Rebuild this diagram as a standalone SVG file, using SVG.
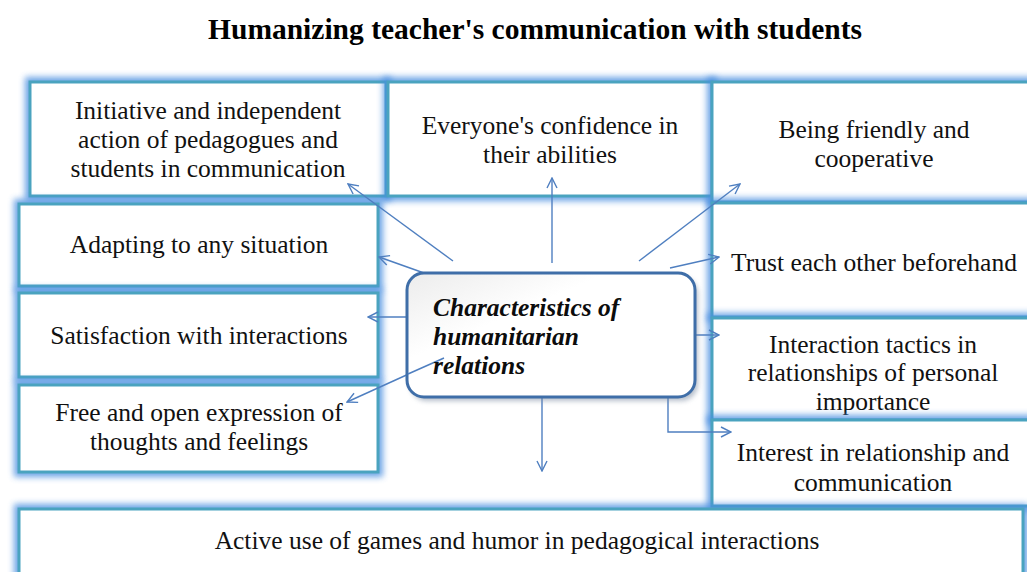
<svg xmlns="http://www.w3.org/2000/svg" width="1027" height="572" viewBox="0 0 1027 572">
  <defs>
    <filter id="glow" x="-10%" y="-20%" width="120%" height="140%">
      <feGaussianBlur stdDeviation="3"/>
    </filter>
    <filter id="shadow" x="-10%" y="-20%" width="120%" height="140%">
      <feGaussianBlur stdDeviation="2.5"/>
    </filter>
    <linearGradient id="coreFill" x1="0" y1="0" x2="1" y2="1">
      <stop offset="0" stop-color="#ececec"/>
      <stop offset="0.35" stop-color="#ffffff"/>
      <stop offset="1" stop-color="#ffffff"/>
    </linearGradient>
    <marker id="arrow" viewBox="0 0 12 12" refX="11" refY="6" markerWidth="12" markerHeight="12" markerUnits="userSpaceOnUse" orient="auto">
      <polyline points="1,1 11,6 1,11" fill="none" stroke="#4f7fc0" stroke-width="1.4"/>
    </marker>
    <style>
      .halo { fill: none; stroke: #4a8ee0; stroke-width: 10; opacity: 0.8; filter: url(#glow); }
      .box { fill: #ffffff; stroke: #4aa3bf; stroke-width: 3; }
      .lbl { font-family: "Liberation Serif", "Times New Roman", Times, serif; font-size: 25.5px; fill: #111111; text-anchor: middle; }
      .title { font-family: "Liberation Serif", "Times New Roman", Times, serif; font-size: 29.5px; font-weight: bold; fill: #000000; text-anchor: middle; }
      .core { font-family: "Liberation Serif", "Times New Roman", Times, serif; font-size: 25.5px; font-weight: bold; font-style: italic; fill: #0c0c0c; }
      .link { fill: none; stroke: #4f7fc0; stroke-width: 1.4; marker-end: url(#arrow); }
    </style>
  </defs>

  <rect width="1027" height="572" fill="#ffffff"/>

  <text class="title" x="535" y="39">Humanizing teacher's communication with students</text>

  <!-- top row -->
  <g id="node-initiative">
    <rect class="halo" x="30" y="82" width="356" height="114"/>
    <rect class="box" x="30" y="82" width="356" height="114"/>
    <text class="lbl" x="208" y="119">Initiative and independent</text>
    <text class="lbl" x="208" y="148">action of pedagogues and</text>
    <text class="lbl" x="208" y="177">students in communication</text>
  </g>
  <g id="node-confidence">
    <rect class="halo" x="388" y="82" width="324" height="114"/>
    <rect class="box" x="388" y="82" width="324" height="114"/>
    <text class="lbl" x="550" y="134">Everyone's confidence in</text>
    <text class="lbl" x="550" y="163">their abilities</text>
  </g>
  <g id="node-friendly">
    <rect class="halo" x="712" y="82" width="330" height="120"/>
    <rect class="box" x="712" y="82" width="330" height="120"/>
    <text class="lbl" x="874" y="138">Being friendly and</text>
    <text class="lbl" x="874" y="167">cooperative</text>
  </g>

  <!-- right column -->
  <g id="node-trust">
    <rect class="halo" x="712" y="203" width="330" height="114"/>
    <rect class="box" x="712" y="203" width="330" height="114"/>
    <text class="lbl" x="874" y="271">Trust each other beforehand</text>
  </g>
  <g id="node-tactics">
    <rect class="halo" x="712" y="318" width="330" height="102"/>
    <rect class="box" x="712" y="318" width="330" height="102"/>
    <text class="lbl" x="873" y="353">Interaction tactics in</text>
    <text class="lbl" x="873" y="381">relationships of personal</text>
    <text class="lbl" x="873" y="410">importance</text>
  </g>
  <g id="node-interest">
    <rect class="halo" x="712" y="420" width="330" height="86"/>
    <rect class="box" x="712" y="420" width="330" height="86"/>
    <text class="lbl" x="873" y="461">Interest in relationship and</text>
    <text class="lbl" x="873" y="491">communication</text>
  </g>

  <!-- left column -->
  <g id="node-adapting">
    <rect class="halo" x="19" y="204" width="359" height="82"/>
    <rect class="box" x="19" y="204" width="359" height="82"/>
    <text class="lbl" x="199" y="253">Adapting to any situation</text>
  </g>
  <g id="node-satisfaction">
    <rect class="halo" x="19" y="293" width="359" height="84"/>
    <rect class="box" x="19" y="293" width="359" height="84"/>
    <text class="lbl" x="199" y="344">Satisfaction with interactions</text>
  </g>
  <g id="node-expression">
    <rect class="halo" x="19" y="385" width="359" height="87"/>
    <rect class="box" x="19" y="385" width="359" height="87"/>
    <text class="lbl" x="199" y="421">Free and open expression of</text>
    <text class="lbl" x="199" y="450">thoughts and feelings</text>
  </g>

  <!-- bottom band -->
  <g id="node-games">
    <rect class="halo" x="19" y="509" width="1004" height="70"/>
    <rect class="box" x="19" y="509" width="1004" height="70"/>
    <text class="lbl" x="517" y="549">Active use of games and humor in pedagogical interactions</text>
  </g>

  <!-- connectors from the centre -->
  <g id="connectors">
    <line class="link" x1="453" y1="261" x2="348" y2="184"/>
    <line class="link" x1="552" y1="263" x2="552" y2="178"/>
    <line class="link" x1="639" y1="261" x2="740" y2="184"/>
    <line class="link" x1="670" y1="268" x2="719" y2="257"/>
    <line class="link" x1="424" y1="273" x2="379" y2="257"/>
    <line class="link" x1="408" y1="317" x2="368" y2="317"/>
    <line class="link" x1="444" y1="358" x2="347" y2="402"/>
    <line class="link" x1="677" y1="335" x2="719" y2="335"/>
    <line class="link" x1="542" y1="398" x2="542" y2="471"/>
    <polyline class="link" points="603,390 668,390 668,432 731,432"/>
  </g>

  <!-- central node -->
  <g id="node-core">
    <rect x="410" y="277" width="288" height="124" rx="17" fill="#7a8aa0" opacity="0.55" filter="url(#shadow)"/>
    <rect x="407" y="273" width="288" height="124" rx="17" fill="url(#coreFill)" stroke="#3f6ea8" stroke-width="3"/>
    <line x1="444" y1="358" x2="408" y2="374" stroke="#4f7fc0" stroke-width="1.4"/>
    <text class="core" x="433" y="316">Characteristics of</text>
    <text class="core" x="433" y="345">humanitarian</text>
    <text class="core" x="433" y="374">relations</text>
  </g>
</svg>
